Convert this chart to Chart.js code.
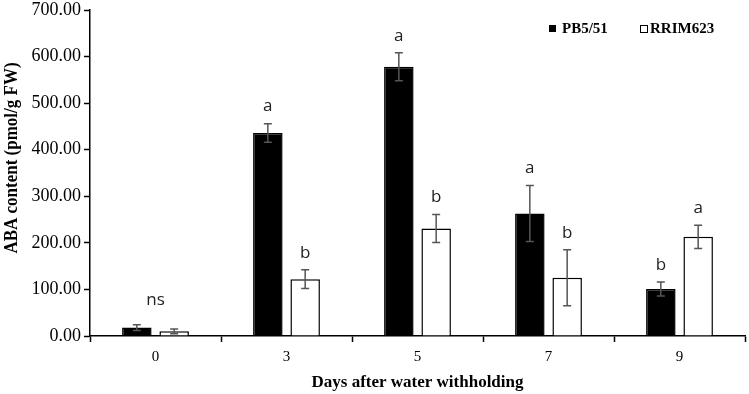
<!DOCTYPE html>
<html>
<head>
<meta charset="utf-8">
<script src="https://cdn.jsdelivr.net/npm/chart.js@4.4.1/dist/chart.umd.min.js"></script>
<style>
  html, body { margin: 0; padding: 0; background: #fff; }
  #wrap { width: 749px; height: 394px; }
</style>
</head>
<body>
<div id="wrap"><canvas id="abaChart" width="749" height="394"></canvas></div>
<script>
const days = ['0', '3', '5', '7', '9'];
const pbMeans = [18, 436, 578, 263, 101];
const pbErrors = [6, 20, 30, 60, 15];
const rrMeans = [10, 122, 231, 125, 213];
const rrErrors = [5, 20, 30, 60, 25];
const pbLetters = ['', 'a', 'a', 'a', 'b'];
const rrLetters = ['', 'b', 'b', 'b', 'a'];
const groupLetters = ['ns', '', '', '', ''];
const yTicks = [0, 100, 200, 300, 400, 500, 600, 700];
const yTitle = 'ABA content (pmol/g FW)';

const serif = '"Liberation Serif", "Times New Roman", serif';

// barras de error, letras, título del eje y y leyenda
const extrasPlugin = {
    id: 'extras',
    afterDatasetsDraw(chart) {
        const ctx = chart.ctx;
        const yScale = chart.scales.y;
        const xScale = chart.scales.x;
        const area = chart.chartArea;
        const errs = [pbErrors, rrErrors];
        const means = [pbMeans, rrMeans];
        const letters = [pbLetters, rrLetters];

        ctx.save();
        chart.data.datasets.forEach((ds, di) => {
            const meta = chart.getDatasetMeta(di);
            meta.data.forEach((bar, i) => {
                const top = yScale.getPixelForValue(means[di][i] + errs[di][i]);
                const bot = yScale.getPixelForValue(means[di][i] - errs[di][i]);
                ctx.strokeStyle = '#555';
                ctx.lineWidth = 1.5;
                ctx.beginPath();
                ctx.moveTo(bar.x, top);
                ctx.lineTo(bar.x, bot);
                ctx.moveTo(bar.x - 4, top);
                ctx.lineTo(bar.x + 4, top);
                ctx.moveTo(bar.x - 4, bot);
                ctx.lineTo(bar.x + 4, bot);
                ctx.stroke();

                if (letters[di][i]) {
                    ctx.fillStyle = '#222';
                    ctx.font = '17px "Open Sans", sans-serif';
                    ctx.textAlign = 'center';
                    ctx.textBaseline = 'middle';
                    ctx.fillText(letters[di][i], bar.x, top - 17);
                }
            });
        });

        groupLetters.forEach((t, i) => {
            if (!t) return;
            const top = Math.min(
                yScale.getPixelForValue(pbMeans[i] + pbErrors[i]),
                yScale.getPixelForValue(rrMeans[i] + rrErrors[i])
            );
            ctx.fillStyle = '#222';
            ctx.font = '17px "Open Sans", sans-serif';
            ctx.textAlign = 'center';
            ctx.textBaseline = 'middle';
            ctx.fillText(t, xScale.getPixelForValue(i), top - 25);
        });

        // título del eje y (algo estirado a lo ancho como en la figura original)
        ctx.save();
        ctx.translate(17, (area.top + area.bottom) / 2 - 15);
        ctx.rotate(-Math.PI / 2);
        ctx.scale(1, 1.1);
        ctx.font = 'bold 17px ' + serif;
        ctx.fillStyle = '#000';
        ctx.textAlign = 'center';
        ctx.textBaseline = 'alphabetic';
        ctx.fillText(yTitle, 0, 0);
        ctx.restore();

        // leyenda
        const ly = 29;
        ctx.font = 'bold 15px ' + serif;
        ctx.textAlign = 'left';
        ctx.textBaseline = 'middle';
        ctx.fillStyle = '#000';
        ctx.fillRect(549, ly - 4, 7, 7);
        ctx.fillText(chart.data.datasets[0].label, 562, ly);
        ctx.strokeStyle = '#000';
        ctx.lineWidth = 1;
        ctx.strokeRect(640.5, ly - 3.5, 7, 7);
        ctx.fillText(chart.data.datasets[1].label, 650, ly);
        ctx.restore();
    }
};

const ctx = document.getElementById('abaChart').getContext('2d');
const abaChart = new Chart(ctx, {
    type: 'bar',
    data: {
        labels: days,
        datasets: [{
            label: 'PB5/51',
            data: pbMeans,
            backgroundColor: '#000',
            borderColor: '#000',
            borderWidth: 1.5,
            categoryPercentage: 0.57,
            barPercentage: 0.79
        }, {
            label: 'RRIM623',
            data: rrMeans,
            backgroundColor: '#fff',
            borderColor: '#000',
            borderWidth: 1.5,
            categoryPercentage: 0.57,
            barPercentage: 0.79
        }]
    },
    options: {
        responsive: false,
        animation: false,
        layout: {
            padding: { top: 0, right: 4, left: 0, bottom: 0 }
        },
        plugins: {
            legend: { display: false },
            tooltip: { enabled: false }
        },
        scales: {
            x: {
                grid: {
                    offset: true,
                    drawOnChartArea: false,
                    tickLength: 6,
                    tickWidth: 1.5,
                    tickColor: '#000'
                },
                border: { color: '#000', width: 1.5 },
                ticks: {
                    color: '#000',
                    font: { family: serif, size: 15 },
                    padding: 6
                },
                title: {
                    display: true,
                    text: 'Days after water withholding',
                    color: '#000',
                    font: { family: serif, size: 17, weight: 'bold' },
                    padding: { top: 2, bottom: 1 }
                },
                afterFit(scale) { scale.height = 58; }
            },
            y: {
                min: 0,
                max: 700,
                afterBuildTicks(scale) {
                    scale.ticks = yTicks.map(v => ({ value: v }));
                },
                grid: {
                    drawOnChartArea: false,
                    tickLength: 6,
                    tickWidth: 1.5,
                    tickColor: '#000'
                },
                border: { color: '#000', width: 1.5 },
                ticks: {
                    color: '#000',
                    font: { family: serif, size: 18 },
                    padding: 3,
                    callback: v => Number(v).toFixed(2)
                },
                afterFit(scale) {
                    scale.width = 90;
                    scale.paddingTop = 10;
                    scale.paddingBottom = 0;
                }
            }
        }
    },
    plugins: [extrasPlugin]
});
</script>
</body>
</html>
